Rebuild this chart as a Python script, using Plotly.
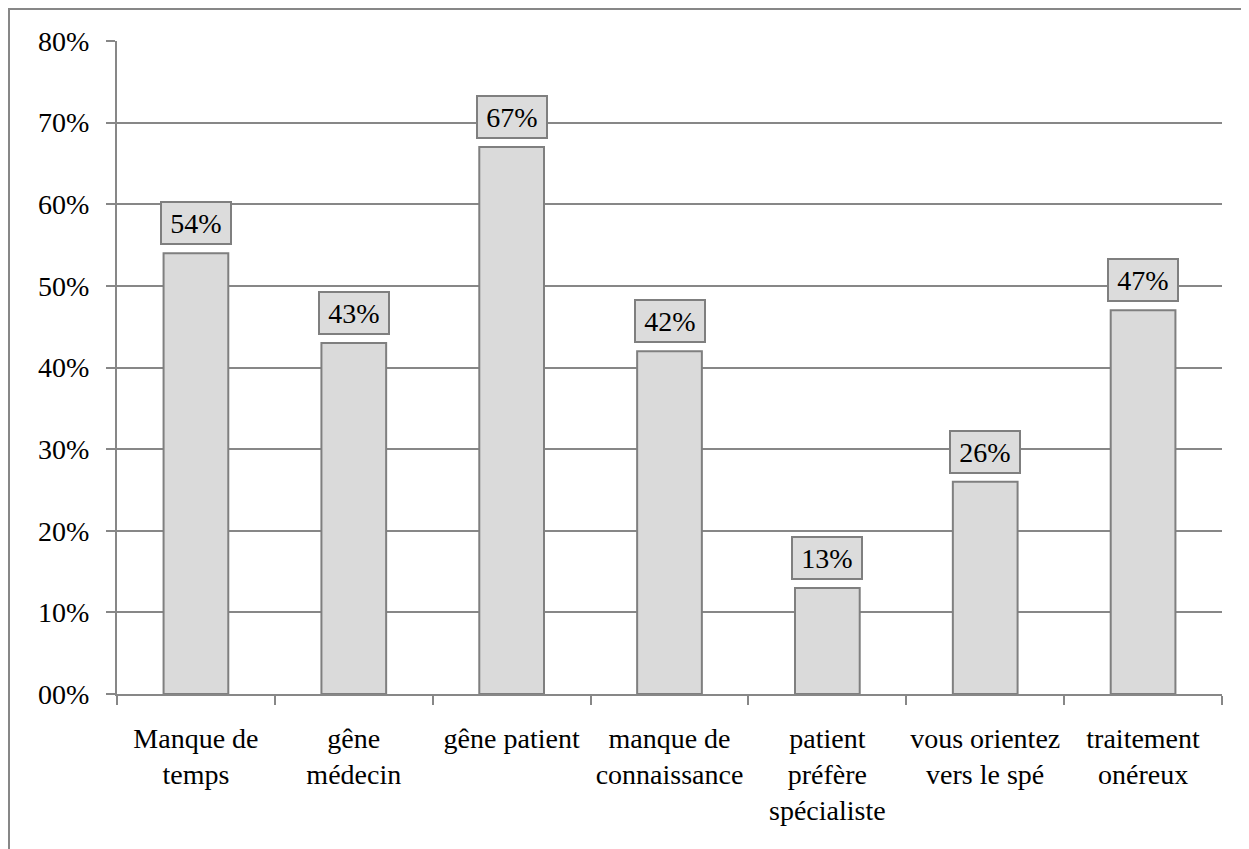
import plotly.graph_objects as go

categories = ["Manque de<br>temps", "gêne<br>médecin", "gêne patient", "manque de<br>connaissance",
              "patient<br>préfère<br>spécialiste", "vous orientez<br>vers le spé", "traitement<br>onéreux"]
values = [0.54, 0.43, 0.67, 0.42, 0.13, 0.26, 0.47]
value_labels = ["54%", "43%", "67%", "42%", "13%", "26%", "47%"]
tick_vals = [0, 0.1, 0.2, 0.3, 0.4, 0.5, 0.6, 0.7, 0.8]
tick_text = ["00%", "10%", "20%", "30%", "40%", "50%", "60%", "70%", "80%"]

FONT = "Liberation Serif, Times New Roman, serif"
GRID = "#878787"

# figure is placed with the page's 8px body margin
W, H = 1241, 841
L, T = 109, 33
PLOT_W, PLOT_H = 1105, 653

fig = go.Figure()
fig.add_trace(go.Bar(
    x=categories, y=values, width=0.41,
    marker=dict(color="#dadada", line=dict(color="#7f7f7f", width=2)),
    hoverinfo="skip", showlegend=False,
))

for c, v, t in zip(categories, values, value_labels):
    fig.add_annotation(
        x=c, y=v, text=t, showarrow=False, yanchor="bottom", yshift=8,
        font=dict(family=FONT, size=28, color="black"),
        bgcolor="#dcdcdc", bordercolor="#7f7f7f", borderwidth=2, borderpad=3,
        width=62, height=34,
    )

# outer frame (cut at right and bottom like the reference)
fig.add_shape(type="rect", xref="paper", yref="paper",
              x0=(1 - L) / PLOT_W, x1=1.2, y0=-0.5, y1=(T + PLOT_H - 1) / PLOT_H,
              line=dict(color=GRID, width=2), layer="below")

fig.update_layout(
    width=W, height=H,
    margin=dict(l=L, r=W - L - PLOT_W, t=T, b=H - T - PLOT_H, autoexpand=False),
    paper_bgcolor="white", plot_bgcolor="white",
    font=dict(family=FONT, size=28, color="black"),
    bargap=0.59,
    xaxis=dict(
        type="category", tickson="boundaries", ticks="outside", ticklen=9,
        tickwidth=2, tickcolor=GRID, showline=True, linecolor=GRID, linewidth=2,
        showgrid=False, ticklabelstandoff=18, tickangle=0, automargin=False,
        tickfont=dict(family=FONT, size=28, color="black"),
    ),
    yaxis=dict(
        range=[0, 0.8], tickvals=tick_vals, ticktext=tick_text,
        ticks="outside", ticklen=9, tickwidth=2, tickcolor=GRID,
        showline=True, linecolor=GRID, linewidth=2, automargin=False,
        showgrid=True, gridcolor=GRID, gridwidth=2, zeroline=False,
        ticklabelstandoff=11,
        tickfont=dict(family=FONT, size=28, color="black"),
    ),
)

fig.write_html("out.html")
